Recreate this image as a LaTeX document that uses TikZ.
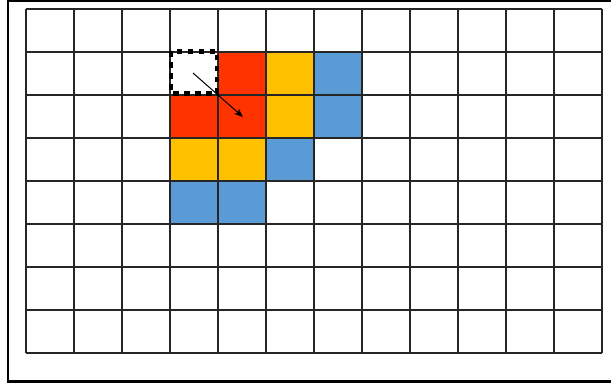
\documentclass[tikz,border=0pt]{standalone}
\usetikzlibrary{arrows.meta}
\definecolor{cred}{HTML}{FF3300}
\definecolor{cyel}{HTML}{FFC000}
\definecolor{cblue}{HTML}{5B9BD5}
\begin{document}
\begin{tikzpicture}[x=1pt,y=-1pt,
  cellfill/.style={fill=#1,draw=none},
  gridline/.style={line width=1.1pt,draw=black!85},
  frameline/.style={line width=2.2pt,draw=black},
  dashbox/.style={line width=4.5pt,draw=black,dash pattern=on 5.5pt off 5.5pt},
  arrowline/.style={line width=1pt,-{Stealth[length=9pt,width=7pt]}}]
\useasboundingbox (0,0) rectangle (611,387);
\clip (0,0) rectangle (611,387);
\fill[white] (0,0) rectangle (611,387);
\draw[frameline] (8,1.2) rectangle (640,381.5);
% cells: column c from x=26+48c, row r from y=9+43r
\foreach \c/\r/\col in {4/1/cred,3/2/cred,4/2/cred,
  5/1/cyel,5/2/cyel,3/3/cyel,4/3/cyel,
  6/1/cblue,6/2/cblue,5/3/cblue,3/4/cblue,4/4/cblue}{
  \path[cellfill=\col] ({26+48*\c},{9+43*\r}) rectangle ({26+48*(\c+1)},{9+43*(\r+1)});
}
\foreach \c in {0,...,12}{
  \draw[gridline] ({26+48*\c},9) -- ({26+48*\c},353);
}
\foreach \r in {0,...,8}{
  \draw[gridline] (26,{9+43*\r}) -- (602,{9+43*\r});
}
\draw[dashbox] (171,51.5) rectangle (217,93.5);
\coordinate (a1) at (193,73);
\coordinate (a2) at (243,117);
\draw[arrowline] (a1) -- (a2);
\end{tikzpicture}
\end{document}
